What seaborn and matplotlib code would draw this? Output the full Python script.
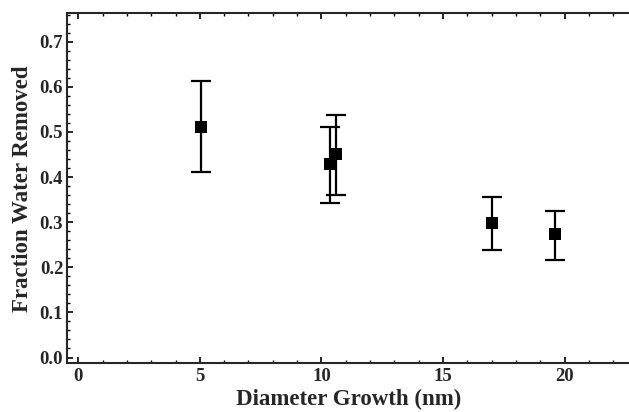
import numpy as np
import pandas as pd
import matplotlib
matplotlib.use("Agg")
import matplotlib.pyplot as plt
from matplotlib.ticker import MultipleLocator
import seaborn as sns

# ================= DATA =================
growth = [5.04, 10.34, 10.58, 17.0, 19.6]
fraction = [0.511, 0.428, 0.452, 0.299, 0.273]
err_low = [0.410, 0.342, 0.361, 0.239, 0.217]
err_high = [0.613, 0.510, 0.537, 0.356, 0.324]

df = pd.DataFrame({"growth": growth, "fraction": fraction})

# ================= STYLE =================
sns.set_style("ticks")
plt.rcParams["font.family"] = ["Liberation Serif", "DejaVu Serif"]
plt.rcParams["font.weight"] = "bold"

fig = plt.figure(figsize=(6.29, 4.12), dpi=100)
ax = fig.add_axes([0.107, 0.118, 0.893, 0.85])

yerr = np.array([np.array(fraction) - np.array(err_low),
                 np.array(err_high) - np.array(fraction)])
ax.errorbar(growth, fraction, yerr=yerr, fmt="none", ecolor="black",
            elinewidth=1.6, capsize=7.5, capthick=1.6, zorder=2)
sns.scatterplot(data=df, x="growth", y="fraction", marker="s", s=68,
                color="black", edgecolor="black", linewidth=0, ax=ax, zorder=3)

ax.set_xlim(-0.45, 22.65)
ax.set_ylim(-0.013, 0.763)
ax.xaxis.set_major_locator(MultipleLocator(5))
ax.xaxis.set_minor_locator(MultipleLocator(1))
ax.yaxis.set_major_locator(MultipleLocator(0.1))
ax.yaxis.set_minor_locator(MultipleLocator(0.02))
ax.yaxis.set_major_formatter(plt.FuncFormatter(lambda v, p: f"{v:.1f}"))

ax.tick_params(which="both", direction="in", top=True, right=False,
               color="black", labelsize=13.5)
ax.tick_params(which="major", length=4, width=1.2, pad=3)
ax.tick_params(which="minor", length=2.5, width=1.0)
for lab in ax.get_xticklabels() + ax.get_yticklabels():
    lab.set_fontweight("bold")

for side in ["left", "bottom", "top"]:
    ax.spines[side].set_visible(True)
    ax.spines[side].set_linewidth(1.5)
ax.spines["right"].set_visible(False)

ax.set_xlabel("Diameter Growth (nm)", fontsize=16.5, fontweight="bold", labelpad=3)
ax.set_ylabel("Fraction Water Removed", fontsize=16.5, fontweight="bold", labelpad=5)

fig.savefig("out.png", dpi=100)
